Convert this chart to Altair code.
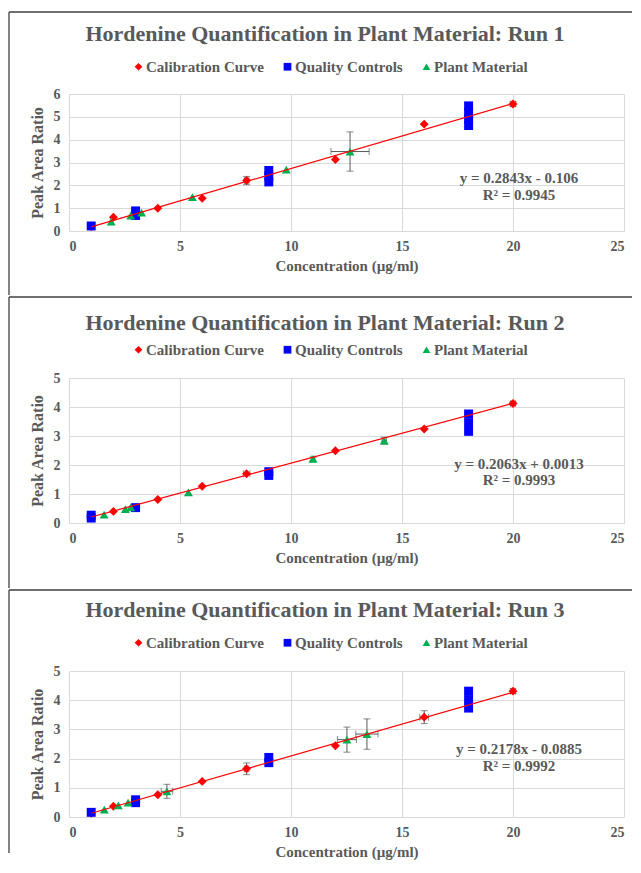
import altair as alt
import pandas as pd

# ---------------- data ----------------
SERIES = ["Calibration Curve", "Quality Controls", "Plant Material"]
COLORS = ["#FF0000", "#0000FF", "#00B050"]
SHAPES = ["diamond", "square", "triangle-up"]

cal_x = [1, 2, 4, 6, 8, 12, 16, 20]

# Run 1
run1_cal_y = [0.20, 0.60, 1.00, 1.43, 2.21, 3.13, 4.68, 5.56]
run1_cal_yerr = [0, 0, 0, 0, 0.18, 0, 0, 0.10]
run1_cal_xerr = [0, 0, 0, 0, 0.10, 0, 0, 0.10]
run1_qc_x = [1, 3, 3, 9, 9, 9, 18, 18, 18, 18]
run1_qc_y = [0.22, 0.68, 0.88, 2.15, 2.40, 2.65, 4.62, 4.90, 5.20, 5.48]
run1_pm_x = [1.90, 2.78, 3.27, 5.56, 9.79, 12.66]
run1_pm_y = [0.41, 0.67, 0.80, 1.48, 2.69, 3.48]
run1_pm_yerr = [0, 0, 0, 0, 0, 0.86]
run1_pm_xerr = [0, 0, 0, 0, 0, 0.86]
run1_fit = (0.2843, -0.106)
run1_eq = ["y = 0.2843x - 0.106", "R² = 0.9945"]

# Run 2
run2_cal_y = [0.21, 0.40, 0.81, 1.27, 1.70, 2.49, 3.24, 4.12]
run2_cal_yerr = [0, 0, 0, 0, 0, 0, 0, 0.06]
run2_cal_xerr = [0, 0, 0, 0, 0.15, 0, 0, 0.10]
run2_qc_x = [1, 1, 3, 9, 9, 18, 18, 18]
run2_qc_y = [0.17, 0.27, 0.53, 1.64, 1.77, 3.16, 3.46, 3.76]
run2_pm_x = [1.58, 2.54, 2.78, 5.38, 10.99, 14.20]
run2_pm_y = [0.29, 0.48, 0.54, 1.06, 2.21, 2.84]
run2_pm_yerr = [0, 0, 0, 0, 0.06, 0.12]
run2_pm_xerr = [0, 0, 0, 0, 0.08, 0.10]
run2_fit = (0.2063, 0.0013)
run2_eq = ["y = 0.2063x + 0.0013", "R² = 0.9993"]

# Run 3
run3_cal_y = [0.13, 0.37, 0.76, 1.22, 1.65, 2.44, 3.42, 4.31]
run3_cal_yerr = [0, 0, 0, 0, 0.20, 0, 0.22, 0.08]
run3_cal_xerr = [0, 0, 0, 0, 0.10, 0, 0.20, 0.10]
run3_qc_x = [1, 3, 3, 9, 9, 18, 18, 18]
run3_qc_y = [0.16, 0.49, 0.59, 1.86, 2.04, 3.73, 4.02, 4.31]
run3_pm_x = [1.59, 2.22, 2.66, 4.41, 12.52, 13.42]
run3_pm_y = [0.25, 0.40, 0.49, 0.88, 2.65, 2.84]
run3_pm_yerr = [0, 0, 0, 0.24, 0.43, 0.52]
run3_pm_xerr = [0, 0, 0, 0.26, 0.43, 0.50]
run3_fit = (0.2178, -0.0885)
run3_eq = ["y = 0.2178x - 0.0885", "R² = 0.9992"]

fit_x = [1, 20]
x_ticks = [0, 5, 10, 15, 20, 25]

TEXT = "#595959"
GRID = "#D9D9D9"
FONT = "Liberation Serif"


def build_df(cal_y, cal_yerr, cal_xerr, qc_x, qc_y, pm_x, pm_y, pm_yerr, pm_xerr):
    rows = []
    for x, y, ye, xe in zip(cal_x, cal_y, cal_yerr, cal_xerr):
        rows.append(dict(series=SERIES[0], x=x, y=y, yerr=ye, xerr=xe))
    for x, y in zip(qc_x, qc_y):
        rows.append(dict(series=SERIES[1], x=x, y=y, yerr=0, xerr=0))
    for x, y, ye, xe in zip(pm_x, pm_y, pm_yerr, pm_xerr):
        rows.append(dict(series=SERIES[2], x=x, y=y, yerr=ye, xerr=xe))
    df = pd.DataFrame(rows)
    df["ylo"] = df["y"] - df["yerr"]
    df["yhi"] = df["y"] + df["yerr"]
    df["xlo"] = df["x"] - df["xerr"]
    df["xhi"] = df["x"] + df["xerr"]
    return df


def panel(run, df, fit, eq, ymax, height, title_y, legend_y, eq_y, top, bottom):
    x_sc = alt.Scale(domain=[0, 25], nice=False)
    y_sc = alt.Scale(domain=[0, ymax], nice=False)
    x_ax = alt.Axis(values=x_ticks, title="Concentration (µg/ml)", labelOverlap=False)
    y_ax = alt.Axis(values=list(range(0, ymax + 1)), title="Peak Area Ratio",
                    labelOverlap=False, titleFontSize=16)

    def X(f):
        return alt.X(f"{f}:Q", scale=x_sc, axis=x_ax)

    def Y(f):
        return alt.Y(f"{f}:Q", scale=y_sc, axis=y_ax)

    ey = df[df["yerr"] > 0]
    ex = df[df["xerr"] > 0]

    err_v = alt.Chart(ey).mark_rule(color=TEXT, strokeWidth=1).encode(
        x=X("x"), y=Y("ylo"), y2="yhi:Q")
    cap_lo = alt.Chart(ey).mark_tick(color=TEXT, orient="horizontal", size=7, thickness=1).encode(
        x=X("x"), y=Y("ylo"))
    cap_hi = alt.Chart(ey).mark_tick(color=TEXT, orient="horizontal", size=7, thickness=1).encode(
        x=X("x"), y=Y("yhi"))
    err_h = alt.Chart(ex).mark_rule(color=TEXT, strokeWidth=1).encode(
        y=Y("y"), x=X("xlo"), x2="xhi:Q")
    capx_lo = alt.Chart(ex).mark_tick(color=TEXT, orient="vertical", size=7, thickness=1).encode(
        y=Y("y"), x=X("xlo"))
    capx_hi = alt.Chart(ex).mark_tick(color=TEXT, orient="vertical", size=7, thickness=1).encode(
        y=Y("y"), x=X("xhi"))

    legend = alt.Legend(orient="none", legendX=62, legendY=legend_y, direction="horizontal",
                        title=None, labelFont=FONT, labelFontSize=15, labelFontWeight="bold",
                        labelColor=TEXT, symbolSize=60, symbolStrokeWidth=0, columnPadding=16,
                        labelOffset=0, padding=0)
    points = alt.Chart(df).mark_point(filled=True, size=80, opacity=1).encode(
        x=X("x"), y=Y("y"),
        color=alt.Color("series:N", scale=alt.Scale(domain=SERIES, range=COLORS), legend=legend),
        shape=alt.Shape("series:N", scale=alt.Scale(domain=SERIES, range=SHAPES), legend=legend),
    )

    line_df = pd.DataFrame({"x": fit_x, "y": [fit[0] * v + fit[1] for v in fit_x]})
    trend = alt.Chart(line_df).mark_line(color="#FF0000", strokeWidth=1.2).encode(
        x=X("x"), y=Y("y"))

    one = alt.Data(values=[{}])
    title = alt.Chart(one).mark_text(
        text=f"Hordenine Quantification in Plant Material: Run {run}", font=FONT, fontSize=22,
        fontWeight="bold", color=TEXT, align="center", baseline="middle",
    ).encode(x=alt.value(256), y=alt.value(title_y))
    eq1 = alt.Chart(one).mark_text(text=eq[0], font=FONT, fontSize=15, fontWeight="bold",
                                   color=TEXT, align="center", baseline="middle").encode(
        x=alt.value(450), y=alt.value(eq_y[0]))
    eq2 = alt.Chart(one).mark_text(text=eq[1], font=FONT, fontSize=15, fontWeight="bold",
                                   color=TEXT, align="center", baseline="middle").encode(
        x=alt.value(450), y=alt.value(eq_y[1]))

    border_top = alt.Chart(one).mark_rule(color="#404040", strokeWidth=1.3).encode(
        x=alt.value(-60), x2=alt.value(563), y=alt.value(top))
    border_left = alt.Chart(one).mark_rule(color="#404040", strokeWidth=1.3).encode(
        x=alt.value(-60), y=alt.value(top), y2=alt.value(bottom))

    return alt.layer(border_top, border_left, title, err_v, cap_lo, cap_hi, err_h, capx_lo,
                     capx_hi, points, trend, eq1, eq2).properties(width=555, height=height)


df1 = build_df(run1_cal_y, run1_cal_yerr, run1_cal_xerr, run1_qc_x, run1_qc_y,
               run1_pm_x, run1_pm_y, run1_pm_yerr, run1_pm_xerr)
df2 = build_df(run2_cal_y, run2_cal_yerr, run2_cal_xerr, run2_qc_x, run2_qc_y,
               run2_pm_x, run2_pm_y, run2_pm_yerr, run2_pm_xerr)
df3 = build_df(run3_cal_y, run3_cal_yerr, run3_cal_xerr, run3_qc_x, run3_qc_y,
               run3_pm_x, run3_pm_y, run3_pm_yerr, run3_pm_xerr)

p1 = panel(1, df1, run1_fit, run1_eq, 6, 137, -60, -35, (84, 101), -82, 201)
p2 = panel(2, df2, run2_fit, run2_eq, 5, 145, -55, -36, (86, 102), -81, 210)
p3 = panel(3, df3, run3_fit, run3_eq, 5, 146, -61, -36, (78, 95), -81, 182)

chart = alt.vconcat(p1, p2, p3, spacing=0).resolve_scale(
    x="independent", y="independent", color="independent", shape="independent"
).resolve_legend(color="independent", shape="independent").properties(
    padding={"top": 3, "left": 0, "right": 0, "bottom": 4}
).configure_view(strokeWidth=0).configure_axis(
    grid=True, gridColor=GRID, gridWidth=1, domain=False, ticks=False,
    labelFont=FONT, labelFontSize=14, labelFontWeight="bold", labelColor=TEXT,
    titleFont=FONT, titleFontSize=15, titleFontWeight="bold", titleColor=TEXT,
).configure_axisX(labelPadding=8, titlePadding=5).configure_axisY(labelPadding=9, titlePadding=8)

chart.save("out.html", embed_options={"renderer": "svg", "actions": False})
